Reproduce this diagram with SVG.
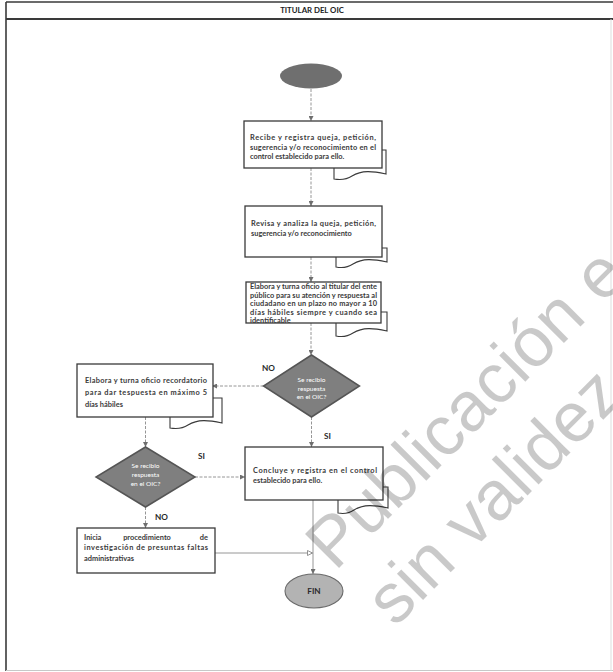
<svg xmlns="http://www.w3.org/2000/svg" width="613" height="672" viewBox="0 0 613 672">
  <style>
    .hdr { font-family: Lato, "Liberation Sans", sans-serif; font-size: 7.8px; font-weight: bold; fill: #222; text-anchor: middle; }
    .box { fill: #ffffff; stroke: #3a3a3a; stroke-width: 1.3; }
    .tab { fill: #ffffff; stroke: #3a3a3a; stroke-width: 1.1; }
    .txt { font-family: Lato, "Liberation Sans", sans-serif; font-size: 7.4px; font-weight: bold; fill: #3a3a3a; }
    .dia { fill: #7f7f7f; stroke: #555555; stroke-width: 1.5; }
    .dtxt { font-family: Lato, "Liberation Sans", sans-serif; font-size: 6.5px; fill: #ffffff; text-anchor: middle; }
    .lbl { font-family: Lato, "Liberation Sans", sans-serif; font-size: 8.2px; font-weight: bold; fill: #2a2a2a; }
    .con { fill: none; stroke: #8a8a8a; stroke-width: 0.9; stroke-dasharray: 3 1.5; }
    .con-solid { fill: none; stroke: #8a8a8a; stroke-width: 0.9; }
    .wm { font-family: "Liberation Sans", Arial, sans-serif; font-size: 70px; fill: #000000; fill-opacity: 0.21; }
  </style>
  <defs>
    <marker id="arr" markerUnits="userSpaceOnUse" markerWidth="5" markerHeight="5" refX="5" refY="2.5" orient="auto">
      <path d="M0,0 L5,2.5 L0,5 z" fill="#6e6e6e"/>
    </marker>
    <marker id="arr-open" markerUnits="userSpaceOnUse" markerWidth="6" markerHeight="6" refX="5.5" refY="3" orient="auto">
      <path d="M0.5,0.5 L5.5,3 L0.5,5.5 z" fill="#ffffff" stroke="#7a7a7a" stroke-width="0.8"/>
    </marker>
  </defs>

  <rect x="0" y="0" width="613" height="672" fill="#ffffff"/>

  <!-- lane frame -->
  <g id="lane">
    <line x1="6" y1="2" x2="613" y2="2" stroke="#3a3a3a" stroke-width="1.6"/>
    <line x1="6" y1="19" x2="613" y2="19" stroke="#3a3a3a" stroke-width="2"/>
    <line x1="6" y1="2" x2="6" y2="671" stroke="#3a3a3a" stroke-width="1.6"/>
    <line x1="6" y1="670.5" x2="613" y2="670.5" stroke="#c8c8c8" stroke-width="1"/>
    <line x1="611" y1="19" x2="611" y2="671" stroke="#dddddd" stroke-width="1"/>
    <text class="hdr" x="312" y="13">TITULAR DEL OIC</text>
  </g>

  <!-- connectors -->
  <g id="connectors">
    <line class="con" x1="311" y1="89" x2="311" y2="121" marker-end="url(#arr)"/>
    <line class="con" x1="311" y1="168" x2="311" y2="206" marker-end="url(#arr)"/>
    <line class="con" x1="311" y1="257" x2="311" y2="282" marker-end="url(#arr)"/>
    <line class="con" x1="311" y1="323" x2="311" y2="355" marker-end="url(#arr)"/>
    <line class="con" x1="263.5" y1="386" x2="212" y2="386" marker-end="url(#arr)"/>
    <line class="con" x1="311.5" y1="417" x2="311.5" y2="447" marker-end="url(#arr)"/>
    <line class="con" x1="145.5" y1="417" x2="145.5" y2="447" marker-end="url(#arr)"/>
    <line class="con" x1="195" y1="477" x2="245" y2="477" marker-end="url(#arr)"/>
    <line class="con" x1="145.5" y1="507" x2="145.5" y2="528" marker-end="url(#arr)"/>
    <line class="con-solid" x1="313" y1="500" x2="313" y2="574" marker-end="url(#arr)"/>
    <line class="con-solid" x1="215" y1="553" x2="312.5" y2="553" marker-end="url(#arr-open)"/>
  </g>

  <!-- start terminal -->
  <g id="start">
    <ellipse cx="311" cy="76" rx="31" ry="12.5" fill="#6f6f6f"/>
  </g>

  <!-- step: receive and register -->
  <g id="recibe">
    <path class="tab" d="M334,150 H386 V174 C372,171 362,170 352,176 C346,180 340,180 334,179 Z"/>
    <rect class="box" x="244" y="121" width="138" height="47"/>
    <text class="txt" x="250" y="140" textLength="126" lengthAdjust="spacing">Recibe y registra queja, petición,</text>
    <text class="txt" x="250" y="149.5" textLength="126" lengthAdjust="spacing">sugerencia y/o reconocimiento en el</text>
    <text class="txt" x="250" y="159">control establecido para ello.</text>
  </g>

  <!-- step: review and analyse -->
  <g id="revisa">
    <path class="tab" d="M336,248 H387 V262 C373,259 363,258 353,264 C347,268 341,268 336,267 Z"/>
    <rect class="box" x="245" y="206" width="137" height="51"/>
    <text class="txt" x="251" y="226" textLength="125" lengthAdjust="spacing">Revisa y analiza la queja, petición,</text>
    <text class="txt" x="251" y="236">sugerencia y/o reconocimiento</text>
  </g>

  <!-- step: send notice to the public entity -->
  <g id="elabora-oficio">
    <path class="tab" d="M336,312 H387 V331 C373,328 363,327 353,333 C347,337 341,337 336,336 Z"/>
    <rect class="box" x="246" y="282" width="135" height="41"/>
    <text class="txt" x="250" y="289" textLength="127" lengthAdjust="spacing">Elabora y turna oficio al titular del ente</text>
    <text class="txt" x="250" y="297.5" textLength="127" lengthAdjust="spacing">público para su atención y respuesta al</text>
    <text class="txt" x="250" y="306" textLength="127" lengthAdjust="spacing">ciudadano en un plazo no mayor a 10</text>
    <text class="txt" x="250" y="314.5" textLength="127" lengthAdjust="spacing">días hábiles siempre y cuando sea</text>
    <text class="txt" x="250" y="323">identificable</text>
  </g>

  <!-- decision 1 -->
  <g id="decision-1">
    <polygon class="dia" points="311.5,355 359.5,386 311.5,417 263.5,386"/>
    <text class="dtxt" x="311.5" y="382">Se recibio</text>
    <text class="dtxt" x="311.5" y="390.5">respuesta</text>
    <text class="dtxt" x="311.5" y="399">en el OIC?</text>
    <text class="lbl" x="262" y="371">NO</text>
    <text class="lbl" x="324" y="439">SI</text>
  </g>

  <!-- step: reminder notice -->
  <g id="recordatorio">
    <path class="tab" d="M170,398 H222 V423 C208,420 198,419 188,425 C182,429 176,429 170,428 Z"/>
    <rect class="box" x="77" y="364" width="136" height="53"/>
    <text class="txt" x="85" y="382.5" textLength="122" lengthAdjust="spacing">Elabora y turna oficio recordatorio</text>
    <text class="txt" x="85" y="394.5" textLength="122" lengthAdjust="spacing">para dar tespuesta en máximo 5</text>
    <text class="txt" x="85" y="406.5">días hábiles</text>
  </g>

  <!-- decision 2 -->
  <g id="decision-2">
    <polygon class="dia" points="145.5,447 195,477 145.5,507 96,477"/>
    <text class="dtxt" x="145.5" y="467.5">Se recibio</text>
    <text class="dtxt" x="145.5" y="476.5">respuesta</text>
    <text class="dtxt" x="145.5" y="485.5">en el OIC?</text>
    <text class="lbl" x="198" y="459">SI</text>
    <text class="lbl" x="155" y="520">NO</text>
  </g>

  <!-- step: conclude -->
  <g id="concluye">
    <path class="tab" d="M338,487 H388 V508 C374,505 364,504 354,510 C348,514 343,514 338,513 Z"/>
    <rect class="box" x="245" y="447" width="138" height="53"/>
    <text class="txt" x="253" y="472.5" textLength="124" lengthAdjust="spacing">Concluye y registra en el control</text>
    <text class="txt" x="253" y="482.5">establecido para ello.</text>
  </g>

  <!-- step: start investigation -->
  <g id="inicia">
    <rect class="box" x="77" y="528" width="138" height="45"/>
    <text class="txt" x="84" y="539.5">Inicia</text>
    <text class="txt" x="147" y="539.5" text-anchor="middle">procedimiento</text>
    <text class="txt" x="208" y="539.5" text-anchor="end">de</text>
    <text class="txt" x="84" y="550" textLength="124" lengthAdjust="spacing">investigación de presuntas faltas</text>
    <text class="txt" x="84" y="560.5">administrativas</text>
  </g>

  <!-- end terminal -->
  <g id="fin">
    <ellipse cx="314" cy="591" rx="29" ry="17" fill="#b3b3b3" stroke="#6a6a6a" stroke-width="1.1"/>
    <text class="lbl" x="314" y="594" text-anchor="middle">FIN</text>
  </g>

  <!-- watermark -->
  <g id="watermark">
    <text class="wm" transform="translate(335,572) rotate(-45)">Publicación e</text>
    <text class="wm" transform="translate(395,628) rotate(-45)">sin validez</text>
  </g>
</svg>
